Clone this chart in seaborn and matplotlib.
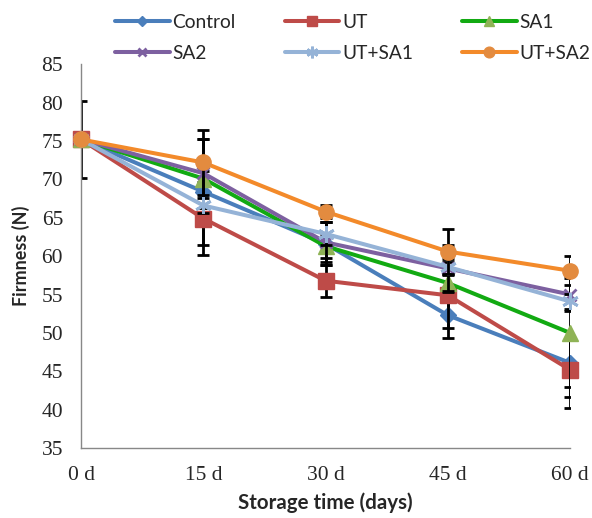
import matplotlib
matplotlib.use("Agg")
import matplotlib.pyplot as plt
import pandas as pd
import seaborn as sns

days = [0, 15, 30, 45, 60]
day_labels = ["0 d", "15 d", "30 d", "45 d", "60 d"]
treatments = ["Control", "UT", "SA1", "SA2", "UT+SA1", "UT+SA2"]

control = [75.2, 68.4, 61.6, 52.3, 46.1]
ut = [75.2, 64.9, 56.8, 54.9, 45.2]
sa1 = [75.2, 70.1, 61.3, 56.5, 50.0]
sa2 = [75.2, 70.8, 61.8, 58.4, 55.0]
ut_sa1 = [75.2, 66.6, 62.9, 58.6, 54.1]
ut_sa2 = [75.2, 72.2, 65.8, 60.6, 58.1]

control_err = [5.0, 6.9, 2.8, 2.9, 3.1]
ut_err = [0.0, 4.7, 2.1, 4.3, 5.0]
sa1_err = [0.0, 1.0, 1.5, 1.2, 8.3]
sa2_err = [0.0, 4.5, 2.6, 3.0, 2.2]
ut_sa1_err = [0.0, 1.0, 1.5, 1.0, 1.0]
ut_sa2_err = [0.0, 4.2, 0.8, 2.9, 1.9]

values = [control, ut, sa1, sa2, ut_sa1, ut_sa2]
errors = [control_err, ut_err, sa1_err, sa2_err, ut_sa1_err, ut_sa2_err]

# line colour, marker colour, marker, marker size
styles = {
    "Control": ("#4A7EBB", "#4A7EBB", "D", 8),
    "UT": ("#BE4B48", "#BE4B48", "s", 11),
    "SA1": ("#12AA12", "#8FB356", "^", 11),
    "SA2": ("#7D60A0", "#7D60A0", "x", 9),
    "UT+SA1": ("#95B3D7", "#95B3D7", (6, 2, 0), 12),
    "UT+SA2": ("#F38A2A", "#E38B3F", "o", 11),
}

rows = []
for name, vals, errs in zip(treatments, values, errors):
    for d, v, e in zip(days, vals, errs):
        rows.append({"Day": d, "Firmness": v, "Error": e, "Treatment": name})
data = pd.DataFrame(rows)

sns.set_style("white")
fig = plt.figure(figsize=(5.92, 5.18), dpi=100)
ax = fig.add_axes([0.137, 0.135, 0.826, 0.741])

for i, name in enumerate(treatments):
    sub = data[data["Treatment"] == name]
    line_c, mark_c, mk, ms = styles[name]
    ax.errorbar(sub["Day"], sub["Firmness"], yerr=sub["Error"], fmt="none",
                ecolor="black", elinewidth=2, capsize=4, capthick=2,
                zorder=2 + i * 2)
    sns.lineplot(data=sub, x="Day", y="Firmness", ax=ax, color=line_c,
                 marker=mk, markersize=ms, markerfacecolor=mark_c,
                 markeredgecolor=mark_c,
                 markeredgewidth=2 if mk in ("x", (6, 2, 0)) else 1,
                 linewidth=2.9, label=name, zorder=3 + i * 2, clip_on=False)

ax.set_xlim(0, 60)
ax.set_ylim(35, 85)
ax.set_xticks(days)
ax.set_xticklabels(day_labels)
ax.set_yticks(range(35, 90, 5))

for s in ["top", "right"]:
    ax.spines[s].set_visible(False)
for s in ["left", "bottom"]:
    ax.spines[s].set_color("#888888")
    ax.spines[s].set_linewidth(1)

ax.tick_params(axis="y", length=6, color="#888888", direction="out",
               labelsize=15.5, pad=7)
ax.tick_params(axis="x", length=0, labelsize=15.5, pad=13)
for lab in ax.get_xticklabels() + ax.get_yticklabels():
    lab.set_family("Liberation Serif")

ax.set_xlabel("Storage time (days)", fontsize=14.8, fontweight="bold",
              family="Lato", labelpad=5)
ax.set_ylabel("Firmness (N)", fontsize=12.9, fontweight="bold",
              family="Lato", labelpad=8)

handles, labels = ax.get_legend_handles_labels()
ax.get_legend().remove()
# matplotlib fills legend columns first, so reorder to read row by row
order = [0, 3, 1, 4, 2, 5]
fig.legend([handles[k] for k in order], [labels[k] for k in order],
           loc="upper left", bbox_to_anchor=(0.175, 0.996),
           ncol=3, frameon=False, prop={"family": "Lato", "size": 13.8},
           handlelength=2.85, handletextpad=0.15, columnspacing=2.55,
           labelspacing=0.75, borderpad=0.1, markerscale=0.7)

fig.savefig("out.png", dpi=100)
